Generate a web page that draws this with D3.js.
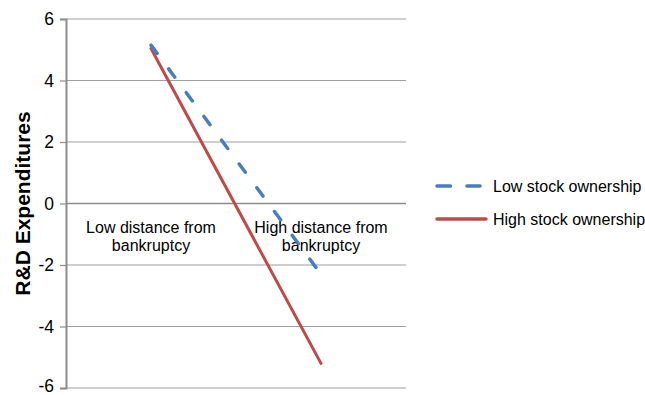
<!DOCTYPE html>
<html><head><meta charset="utf-8">
<script src="https://cdnjs.cloudflare.com/ajax/libs/d3/7.8.5/d3.min.js"></script>
<style>body{margin:0;background:#fff}svg{display:block}text{font-family:"Liberation Sans",Arial,sans-serif}</style>
</head><body><svg id="c" width="645" height="395"></svg>
<script>
const categories = ["Low distance from bankruptcy", "High distance from bankruptcy"];
const categoryLines = [["Low distance from", "bankruptcy"], ["High distance from", "bankruptcy"]];
const lowStock = [5.15, -2.3];
const highStock = [5.04, -5.2];
const seriesNames = ["Low stock ownership", "High stock ownership"];
const yTicks = [-6, -4, -2, 0, 2, 4, 6];
const yTitle = "R&D Expenditures";

const svg = d3.select("#c");
const L = 66, R = 406, T = 19, B = 388;
const x = d3.scaleBand().domain(categories).range([L, R]);
const y = d3.scaleLinear().domain([-6, 6]).range([B, T]);

// gridlines
svg.append("g").selectAll("line").data(yTicks).join("line")
  .attr("x1", L).attr("x2", R).attr("y1", d => y(d)).attr("y2", d => y(d))
  .attr("stroke", d => d === 0 ? "#8c8c8c" : "#a0a0a0").attr("stroke-width", d => d === 0 ? 1.5 : 1.2);

// y axis
const ya = svg.append("g").attr("transform", `translate(${L},0)`)
  .call(d3.axisLeft(y).tickValues(yTicks).tickSize(6).tickPadding(6).tickFormat(d3.format("d")));
ya.select(".domain").attr("stroke", "#8c8c8c").attr("stroke-width", 2);
ya.selectAll(".tick line").attr("stroke", "#8c8c8c").attr("stroke-width", 1.2);
ya.selectAll(".tick text").attr("font-size", 17.5).attr("fill", "#000")
  .attr("font-family", '"Liberation Sans",Arial,sans-serif').text(d => d < 0 ? "-" + Math.abs(d) : d)
  .attr("dy", d => d === -6 ? "0.2em" : "0.32em");

// category labels
const cl = svg.append("g");
categories.forEach((c, i) => {
  const t = cl.append("text").attr("x", x(c) + x.bandwidth() / 2).attr("y", y(0) + 29)
    .attr("text-anchor", "middle").attr("font-size", 16).attr("fill", "#000");
  categoryLines[i].forEach((ln, j) => t.append("tspan").attr("x", x(c) + x.bandwidth() / 2).attr("dy", j ? 18 : 0).text(ln));
});

// y title
svg.append("text").attr("transform", `translate(30,${(T + B) / 2}) rotate(-90)`)
  .attr("text-anchor", "middle").attr("font-size", 21).attr("font-weight", "bold").text(yTitle);

const line = d3.line().x((d, i) => x(categories[i]) + x.bandwidth() / 2).y(d => y(d));
svg.append("path").datum(highStock).attr("d", line).attr("fill", "none")
  .attr("stroke", "#be4b48").attr("stroke-width", 3).attr("stroke-linecap", "round");
svg.append("path").datum(lowStock).attr("d", line).attr("fill", "none")
  .attr("stroke", "#4a7ebb").attr("stroke-width", 3.5).attr("stroke-linecap", "round")
  .attr("stroke-dasharray", "10.3,19.3");

// legend
const lg = svg.append("g");
const colors = ["#4a7ebb", "#be4b48"];
seriesNames.forEach((n, i) => {
  const yy = 186 + i * 33;
  lg.append("line").attr("x1", 437).attr("x2", i === 0 ? 480 : 486).attr("y1", yy).attr("y2", yy)
    .attr("stroke", colors[i]).attr("stroke-width", 3.5).attr("stroke-linecap", "round")
    .attr("stroke-dasharray", i === 0 ? "13.5,16.5" : null);
  lg.append("text").attr("x", 493).attr("y", yy + 5.5).attr("font-size", 16).text(n);
});
</script></body></html>
